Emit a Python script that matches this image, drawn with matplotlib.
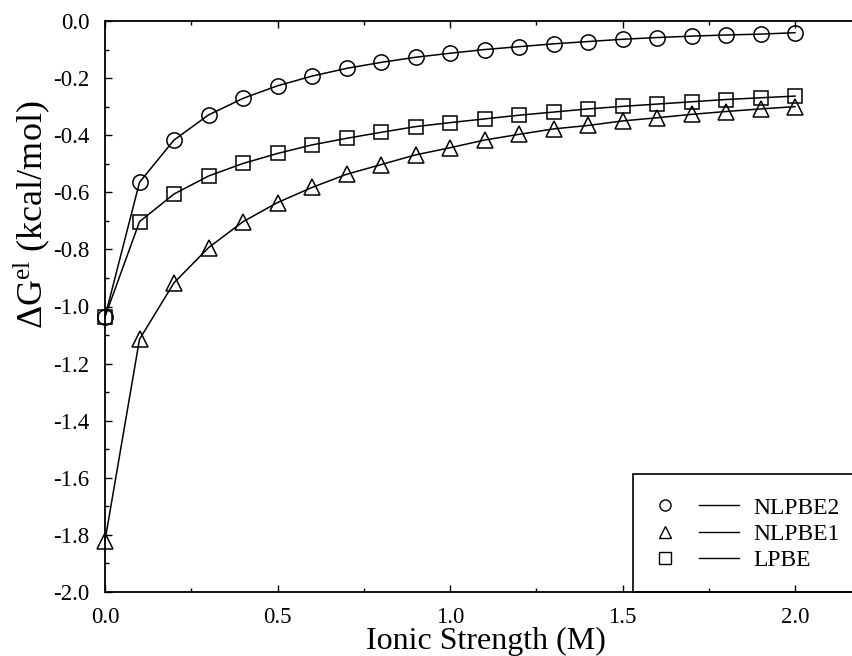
import matplotlib
matplotlib.use("Agg")
import matplotlib.pyplot as plt
from matplotlib.lines import Line2D
from matplotlib.patches import Rectangle
from matplotlib.legend_handler import HandlerTuple
from matplotlib.ticker import MultipleLocator, FormatStrFormatter

plt.rcParams['font.family'] = ['Liberation Serif', 'DejaVu Serif']
plt.rcParams['mathtext.fontset'] = 'custom'
plt.rcParams['mathtext.rm'] = 'Liberation Serif'
plt.rcParams['mathtext.it'] = 'Liberation Serif:italic'

# Data
ionic = [0.0, 0.1, 0.2, 0.3, 0.4, 0.5, 0.6, 0.7, 0.8, 0.9, 1.0,
         1.1, 1.2, 1.3, 1.4, 1.5, 1.6, 1.7, 1.8, 1.9, 2.0]
nlpbe2 = [-1.036, -0.565, -0.417, -0.329, -0.271, -0.227, -0.193, -0.166,
          -0.145, -0.127, -0.113, -0.100, -0.090, -0.080, -0.072, -0.064,
          -0.058, -0.053, -0.049, -0.046, -0.041]
nlpbe1 = [-1.82, -1.115, -0.917, -0.794, -0.703, -0.636, -0.583, -0.537,
          -0.503, -0.469, -0.444, -0.417, -0.397, -0.378, -0.366, -0.350,
          -0.339, -0.327, -0.317, -0.308, -0.300]
lpbe = [-1.036, -0.703, -0.606, -0.543, -0.499, -0.464, -0.434, -0.411,
        -0.390, -0.370, -0.356, -0.343, -0.330, -0.319, -0.308, -0.299,
        -0.291, -0.283, -0.275, -0.269, -0.263]

series = [("NLPBE2", nlpbe2, 'o', 11), ("NLPBE1", nlpbe1, '^', 11),
          ("LPBE", lpbe, 's', 10)]

fig = plt.figure(figsize=(8.52, 6.56), dpi=100)
# axes run slightly past the right edge of the figure (cropped like the original)
ax = fig.add_axes([105 / 852, 64 / 656, 759 / 852, 571 / 656])

handles = []
for name, vals, mk, ms in series:
    ax.plot(ionic, vals, color='black', lw=1.1, marker=mk, ms=ms,
            mfc='none', mec='black', mew=1.1, clip_on=False, zorder=3)
    h_mk = Line2D([], [], ls='none', marker=mk, ms=8, mfc='none',
                  mec='black', mew=1.0)
    h_ln = Line2D([], [], color='black', lw=1.0)
    handles.append(((h_mk, h_ln), name))

ax.set_xlim(0, 2.2)
ax.set_ylim(-2.0, 0.0)
ax.xaxis.set_major_locator(MultipleLocator(0.5))
ax.xaxis.set_minor_locator(MultipleLocator(0.25))
ax.yaxis.set_major_locator(MultipleLocator(0.2))
ax.yaxis.set_minor_locator(MultipleLocator(0.1))
ax.xaxis.set_major_formatter(FormatStrFormatter('%.1f'))
ax.yaxis.set_major_formatter(FormatStrFormatter('%.1f'))
ax.tick_params(which='both', direction='in', top=True, right=False,
               labelsize=16.5, width=1.0)
ax.tick_params(axis='y', which='major', pad=11)
ax.tick_params(axis='x', which='major', pad=11)
ax.tick_params(which='major', length=5)
ax.tick_params(which='minor', length=3)
for s in ax.spines.values():
    s.set_linewidth(1.3)

# legend entries without frame; the box is drawn separately (cut off at right)
leg = ax.legend([h for h, _ in handles], [n for _, n in handles],
                handler_map={tuple: HandlerTuple(ndivide=None, pad=0.6)},
                loc='center left', bbox_to_anchor=(645 / 852, 1 - 534 / 656),
                bbox_transform=fig.transFigure, borderpad=0, borderaxespad=0,
                fontsize=17, handlelength=4.0, handletextpad=0.6,
                labelspacing=0.2, frameon=False)
fig.patches.append(Rectangle((633 / 852, 64 / 656), 240 / 852, 118 / 656,
                             transform=fig.transFigure, fill=False,
                             lw=1.2, ec='black'))

fig.text(32 / 852, 1 - 215 / 656, r'ΔG$^{\mathrm{el}}$ (kcal/mol)',
         rotation=90, ha='center', va='center', fontsize=26)
fig.text(486 / 852, 1 - 641 / 656, 'Ionic Strength (M)',
         ha='center', va='center', fontsize=23)

fig.savefig('out.png', dpi=100)
plt.close(fig)
